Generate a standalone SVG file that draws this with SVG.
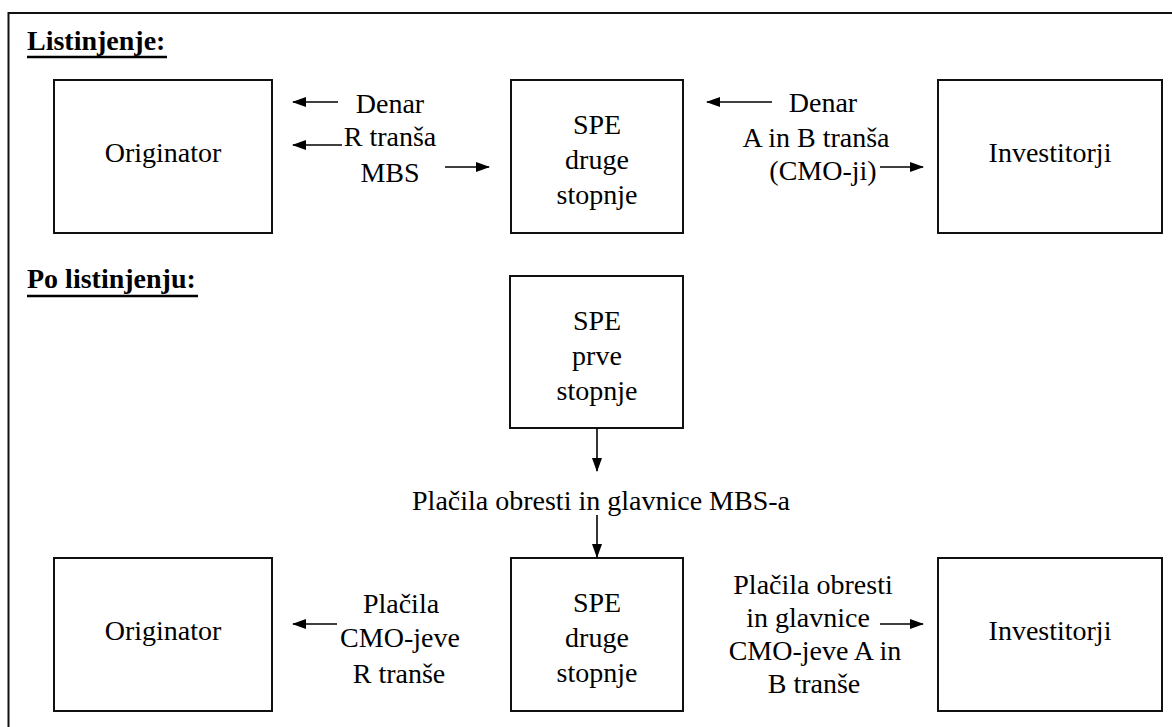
<svg xmlns="http://www.w3.org/2000/svg" width="1172" height="727" viewBox="0 0 1172 727">
  <defs>
    <marker id="ah" viewBox="0 0 14 10" refX="13" refY="5" markerWidth="14" markerHeight="10" markerUnits="userSpaceOnUse" orient="auto">
      <path d="M0,0 L14,5 L0,10 Z" fill="#000"/>
    </marker>
    <style>
      .box { fill: #fff; stroke: #111; stroke-width: 2; }
      .ul { stroke: #000; stroke-width: 2.5; }
      .c { stroke: #000; stroke-width: 1.6; fill: none; marker-end: url(#ah); }
    </style>
  </defs>

  <rect width="1172" height="727" fill="#fff"/>
  <!-- outer frame (runs off the right and bottom edges) -->
  <path d="M8.5,740 V13 H1190" fill="none" stroke="#111" stroke-width="2"/>

  <g font-size="28">
    <!-- section headings -->
    <g id="headings">
      <text x="27" y="50" font-weight="bold" font-family="Liberation Serif, serif">Listinjenje:</text>
      <line class="ul" x1="27" y1="57" x2="167" y2="57"/>
      <text x="27" y="288" font-weight="bold" font-family="Liberation Serif, serif">Po listinjenju:</text>
      <line class="ul" x1="27" y1="296" x2="198" y2="296"/>
    </g>

    <!-- stage 1: securitisation -->
    <g id="originator-1">
      <rect class="box" x="54" y="80" width="218" height="153"/>
      <text x="163" y="162" text-anchor="middle" font-family="Liberation Serif, serif">Originator</text>
    </g>
    <g id="spe2-1">
      <rect class="box" x="511" y="80" width="172" height="153"/>
      <text x="597" y="134" text-anchor="middle" font-family="Liberation Serif, serif">SPE</text>
      <text x="597" y="169" text-anchor="middle" font-family="Liberation Serif, serif">druge</text>
      <text x="597" y="204" text-anchor="middle" font-family="Liberation Serif, serif">stopnje</text>
    </g>
    <g id="investitorji-1">
      <rect class="box" x="938" y="80" width="224" height="153"/>
      <text x="1050" y="162" text-anchor="middle" font-family="Liberation Serif, serif">Investitorji</text>
    </g>

    <!-- stage 2: after securitisation -->
    <g id="spe1">
      <rect class="box" x="510" y="276" width="173" height="152"/>
      <text x="597" y="330" text-anchor="middle" font-family="Liberation Serif, serif">SPE</text>
      <text x="597" y="365" text-anchor="middle" font-family="Liberation Serif, serif">prve</text>
      <text x="597" y="400" text-anchor="middle" font-family="Liberation Serif, serif">stopnje</text>
    </g>
    <g id="originator-2">
      <rect class="box" x="54" y="558" width="218" height="153"/>
      <text x="163" y="640" text-anchor="middle" font-family="Liberation Serif, serif">Originator</text>
    </g>
    <g id="spe2-2">
      <rect class="box" x="511" y="558" width="172" height="153"/>
      <text x="597" y="612" text-anchor="middle" font-family="Liberation Serif, serif">SPE</text>
      <text x="597" y="647" text-anchor="middle" font-family="Liberation Serif, serif">druge</text>
      <text x="597" y="682" text-anchor="middle" font-family="Liberation Serif, serif">stopnje</text>
    </g>
    <g id="investitorji-2">
      <rect class="box" x="938" y="558" width="224" height="153"/>
      <text x="1050" y="640" text-anchor="middle" font-family="Liberation Serif, serif">Investitorji</text>
    </g>

    <!-- flow labels -->
    <g id="labels">
      <text x="390" y="113" text-anchor="middle" font-family="Liberation Serif, serif">Denar</text>
      <text x="390" y="146" text-anchor="middle" font-family="Liberation Serif, serif">R tranša</text>
      <text x="390" y="182" text-anchor="middle" font-family="Liberation Serif, serif">MBS</text>

      <text x="823" y="112" text-anchor="middle" font-family="Liberation Serif, serif">Denar</text>
      <text x="816" y="147" text-anchor="middle" font-family="Liberation Serif, serif">A in B tranša</text>
      <text x="823" y="180" text-anchor="middle" font-family="Liberation Serif, serif">(CMO-ji)</text>

      <text x="601" y="510" text-anchor="middle" font-family="Liberation Serif, serif">Plačila obresti in glavnice MBS-a</text>

      <text x="401" y="613" text-anchor="middle" font-family="Liberation Serif, serif">Plačila</text>
      <text x="400" y="647" text-anchor="middle" font-family="Liberation Serif, serif">CMO-jeve</text>
      <text x="399" y="683" text-anchor="middle" font-family="Liberation Serif, serif">R tranše</text>

      <text x="813" y="594" text-anchor="middle" font-family="Liberation Serif, serif">Plačila obresti</text>
      <text x="808" y="627" text-anchor="middle" font-family="Liberation Serif, serif">in glavnice</text>
      <text x="815" y="660" text-anchor="middle" font-family="Liberation Serif, serif">CMO-jeve A in</text>
      <text x="814" y="693" text-anchor="middle" font-family="Liberation Serif, serif">B tranše</text>
    </g>
  </g>

  <!-- connectors -->
  <g id="connectors">
    <line class="c" x1="338" y1="102" x2="293" y2="102"/>
    <line class="c" x1="342" y1="145" x2="293" y2="145"/>
    <line class="c" x1="445" y1="167" x2="489" y2="167"/>
    <line class="c" x1="772" y1="102" x2="707" y2="102"/>
    <line class="c" x1="880" y1="167" x2="923" y2="167"/>
    <line class="c" x1="597" y1="428" x2="597" y2="471"/>
    <line class="c" x1="597" y1="515" x2="597" y2="557"/>
    <line class="c" x1="337" y1="624" x2="293" y2="624"/>
    <line class="c" x1="880" y1="624" x2="923" y2="624"/>
  </g>
</svg>
